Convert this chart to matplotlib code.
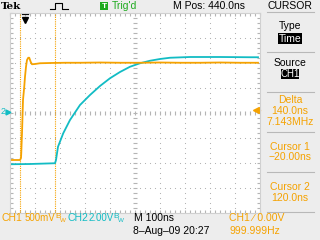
import numpy as np
import matplotlib.pyplot as plt
from matplotlib import font_manager
from matplotlib.patches import Rectangle
from matplotlib.lines import Line2D

# scope settings / readouts
ch1_scale = '500mV'
ch2_scale = '2.00V'
time_scale = '100ns'
m_pos = '440.0ns'
cursor_t = [-20, 120]          # ns
trig_level_div = 0.12

# CH1 (orange) trace, time in ns, value in divisions
ch1_t = [-60, -20, -16, -15, -12, -8, -3, 0, 4, 8, 13, 17, 23, 28, 40, 60, 100,
         160, 220, 300, 380, 460, 540, 620, 700, 780, 860, 932]
ch1_div = [-1.88, -1.88, -1.80, -1.61, -0.81, 0.52, 1.05, 1.45, 1.85, 2.12, 2.21, 2.21,
           2.04, 1.95, 1.96, 1.99, 2.00, 2.01, 2.01, 2.02, 2.01, 2.01, 2.02, 2.01,
           2.01, 2.02, 2.01, 2.01]

# CH2 (cyan) trace
ch2_t = [-60, 20, 120, 124, 132, 153, 180, 220, 260, 300, 340, 380, 420, 460,
         500, 540, 580, 660, 780, 900, 932]
ch2_div = [-2.05, -2.04, -2.01, -1.88, -1.35, -0.81, -0.28, 0.32, 0.72, 1.08, 1.39,
           1.64, 1.85, 1.99, 2.09, 2.16, 2.21, 2.24, 2.24, 2.23, 2.23]

ORANGE = '#F5A200'
CYAN = '#12BCC4'
GREEN = '#1EAA1E'
BG = '#EDEDED'
GRID = '#B4B4B4'

names = {f.name for f in font_manager.fontManager.ttflist}
FONT = 'Liberation Sans Narrow' if 'Liberation Sans Narrow' in names else 'Liberation Sans'
plt.rcParams['font.family'] = FONT

W, H = 320, 240
def fx(x):
    return x / W
def fy(y):
    return 1 - y / H

fig = plt.figure(figsize=(3.2, 2.4), dpi=100, facecolor=BG)
ax = fig.add_axes([fx(10), fy(213), 250 / W, 200 / H])
ax.set_facecolor('white')
ax.set_xlim(-60, 940)
ax.set_ylim(-4, 4)

# graticule dots
ys = np.arange(-4, 4.01, 0.2)
xs = np.arange(-60, 941, 20)
for gx in np.arange(40, 940, 100):
    if gx == 440:
        continue
    ax.plot([gx] * len(ys), ys, ls='none', marker='s', ms=0.75, mew=0, color=GRID)
for gy in range(-3, 4):
    if gy == 0:
        continue
    ax.plot(xs, [gy] * len(xs), ls='none', marker='s', ms=0.75, mew=0, color=GRID)
ax.plot([440] * len(ys), ys, ls='none', marker='_', ms=3, mew=0.8, color=GRID)
ax.plot(xs, [0] * len(xs), ls='none', marker='|', ms=3, mew=0.8, color=GRID)

ax.set_xticks(np.arange(-60, 941, 100))
ax.set_xticks(xs, minor=True)
ax.set_yticks(np.arange(-4, 4.01, 1))
ax.set_yticks(ys, minor=True)
ax.tick_params(which='both', direction='in', length=2.2, width=0.8, color=GRID,
               top=True, right=True, labelbottom=False, labelleft=False)
for s in ax.spines.values():
    s.set_color('#D0D0D0')
    s.set_linewidth(0.8)

# cursors
for c in cursor_t:
    ax.axvline(c, color=ORANGE, ls=(0, (1, 1)), lw=0.8)

# traces
ax.plot(ch2_t, ch2_div, color=CYAN, lw=1.3)
ax.plot(ch1_t, ch1_div, color=ORANGE, lw=1.3)

# trigger position arrow and level marker
ax.plot([-12, 12], [3.95, 3.95], color='black', lw=0.9, clip_on=False)
ax.plot(0, 3.72, marker='v', ms=4.5, color='black', clip_on=False)
ax.plot([924, 940], [trig_level_div] * 2, color=ORANGE, lw=0.9, clip_on=False)
ax.plot(922, trig_level_div, marker='<', ms=4, color=ORANGE, clip_on=False)

# ch2 ground marker
fig.text(fx(1), fy(112), '2', color=CYAN, fontsize=6.5, va='center')
fig.add_artist(Line2D([fx(8)], [fy(112)], marker='>', ms=3.5, color=CYAN, ls='none'))

# header
fig.text(fx(1), fy(6.5), 'Tek', family='DejaVu Serif', weight='bold', fontsize=7.5,
         va='center')
fig.add_artist(Line2D([fx(50), fx(55), fx(55), fx(62), fx(62), fx(68)],
                      [fy(9), fy(9), fy(3), fy(3), fy(9), fy(9)], color='black', lw=0.8))
fig.add_artist(Rectangle((fx(100), fy(10)), 8 / W, 8 / H, color=GREEN, lw=0))
fig.text(fx(104), fy(6), 'T', color='white', fontsize=6, weight='bold',
         ha='center', va='center')
fig.text(fx(112), fy(6), "Trig'd", color=GREEN, fontsize=7.5, va='center')
fig.text(fx(209), fy(6), 'M Pos: ' + m_pos, fontsize=7.5, ha='center', va='center')
fig.text(fx(290), fy(6), 'CURSOR', fontsize=7.5, ha='center', va='center')

# side menu
for y in [12, 52, 92, 132, 172, 212]:
    fig.add_artist(Line2D([fx(267), fx(314)], [fy(y), fy(y)], color='#B8B8B8', lw=0.8))
fig.text(fx(290), fy(26), 'Type', fontsize=7.5, ha='center', va='center')
fig.add_artist(Rectangle((fx(278), fy(44)), 24 / W, 11 / H, color='black', lw=0))
fig.text(fx(290), fy(38.5), 'Time', color='white', fontsize=7.5, ha='center', va='center')
fig.text(fx(290), fy(63.5), 'Source', fontsize=7.5, ha='center', va='center')
fig.add_artist(Rectangle((fx(281), fy(79)), 18 / W, 10 / H, color='black', lw=0))
fig.text(fx(290), fy(74), 'CH1', color='white', fontsize=7, ha='center', va='center')
delta = cursor_t[1] - cursor_t[0]
menu = [(100, 'Delta'), (111, f'{delta:.1f}ns'), (122, f'{1e3 / delta:.3f}MHz'),
        (147, 'Cursor 1'), (157, f'\u2212{abs(cursor_t[0]):.2f}ns'),
        (187, 'Cursor 2'), (198, f'{cursor_t[1]:.1f}ns')]
for y, s in menu:
    fig.text(fx(290), fy(y), s, color=ORANGE, fontsize=7.5, ha='center', va='center')

# footer
def bw_text(x, label, bx, color):
    fig.text(fx(x), fy(218), label, color=color, fontsize=7, va='center')
    fig.text(fx(bx), fy(217), 'B', color=color, fontsize=6, va='center')
    fig.text(fx(bx + 4.5), fy(220.5), 'W', color=color, fontsize=4.5, va='center')

fig.text(fx(1), fy(218), 'CH1', color=ORANGE, fontsize=7.5, va='center')
bw_text(25, ch1_scale, 55, ORANGE)
fig.text(fx(67), fy(218), 'CH2', color=CYAN, fontsize=7.5, va='center')
bw_text(89, ch2_scale, 113, CYAN)
fig.text(fx(134), fy(218), 'M ' + time_scale, fontsize=7.5, va='center')
fig.text(fx(133), fy(231), '8\u2013Aug\u201309 20:27', fontsize=7.5, va='center')
fig.text(fx(229), fy(218), 'CH1 \u2215 0.00V', color=ORANGE, fontsize=7.5, va='center')
fig.text(fx(229), fy(231), '999.999Hz', color=ORANGE, fontsize=7.5, va='center')

fig.savefig('out.png', dpi=100, facecolor=BG)
